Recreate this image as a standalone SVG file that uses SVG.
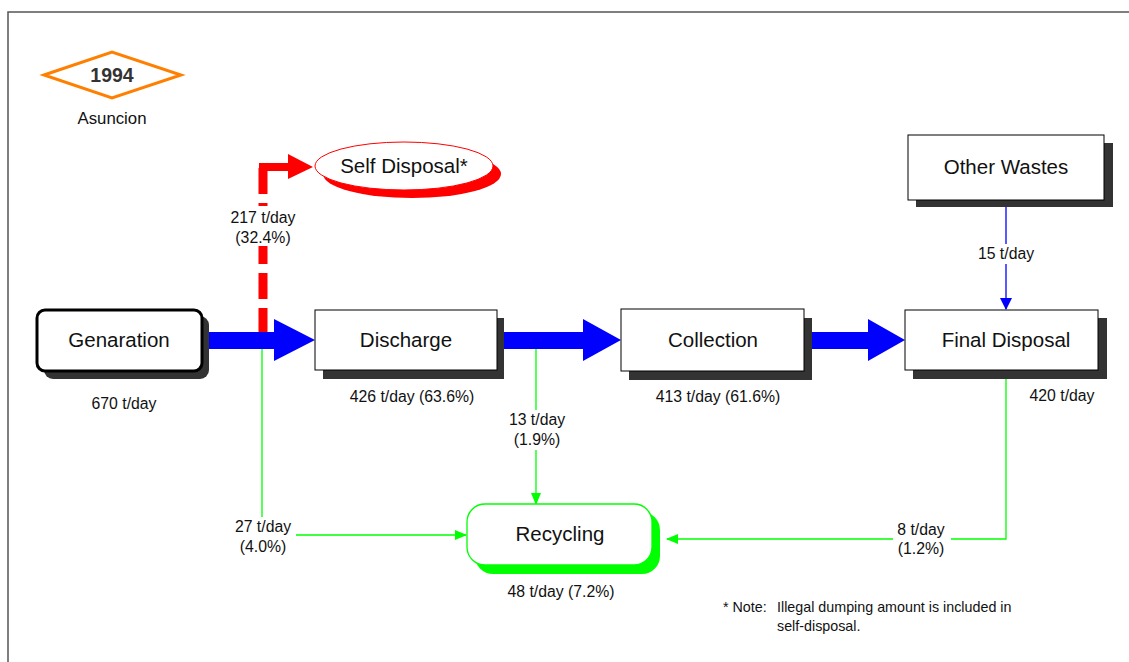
<svg xmlns="http://www.w3.org/2000/svg" width="1129" height="662" viewBox="0 0 1129 662">
  <style>
    text { font-family: "Liberation Sans", Arial, sans-serif; fill: #111; }
    .box { fill: #fff; stroke: #000; stroke-width: 1; }
    .shadow { fill: #333; }
    .name { font-size: 20.5px; text-anchor: middle; }
    .lbl { font-size: 15.8px; text-anchor: middle; }
    .note { font-size: 14.3px; }
    .thin-green { fill: none; stroke: #00ff00; stroke-width: 1.3; }
    .bg { fill: #fff; }
  </style>
  <defs>
    <marker id="ah-green" markerWidth="12" markerHeight="10" refX="11" refY="5" orient="auto" markerUnits="userSpaceOnUse">
      <path d="M0,0 L12,5 L0,10 Z" fill="#00ff00"/>
    </marker>
    <marker id="ah-blue" markerWidth="12" markerHeight="12" refX="11" refY="6" orient="auto" markerUnits="userSpaceOnUse">
      <path d="M0,0 L12,6 L0,12 Z" fill="#0000ff"/>
    </marker>
  </defs>

  <rect width="1129" height="662" fill="#fff"/>
  <!-- frame -->
  <path d="M8,662 V12 H1129" fill="none" stroke="#555" stroke-width="1.5"/>

  <!-- year badge -->
  <g id="year">
    <polygon points="44,75 112,52 181,75 112,98" fill="#fff" stroke="#ff8000" stroke-width="3"/>
    <text x="112" y="82" font-size="19.5" font-weight="bold" text-anchor="middle" style="fill:#333">1994</text>
    <text x="112" y="124" font-size="16.8" text-anchor="middle">Asuncion</text>
  </g>

  <!-- connectors -->
  <g id="connectors">
    <!-- thin green flows to recycling -->
    <path class="thin-green" d="M262,349 V535 H466" marker-end="url(#ah-green)"/>
    <path class="thin-green" d="M536,349 V504" marker-end="url(#ah-green)"/>
    <path class="thin-green" d="M1006,379 V539 H667" marker-end="url(#ah-green)"/>
    <!-- other wastes to final disposal -->
    <path d="M1006,207 V309" fill="none" stroke="#0000ff" stroke-width="1.3" marker-end="url(#ah-blue)"/>

    <!-- main blue flow arrows -->
    <polygon points="209,332 274,332 274,319 315,340 274,361 274,349 209,349" fill="#0000ff"/>
    <polygon points="504,332 583,332 583,319 621,340 583,361 583,349 504,349" fill="#0000ff"/>
    <polygon points="812,332 868,332 868,319 905,340 868,361 868,349 812,349" fill="#0000ff"/>

    <!-- dashed red flow to self disposal -->
    <path d="M263,168 V332" fill="none" stroke="#ff0000" stroke-width="9" stroke-dasharray="26 9"/>
    <polygon points="259,163 288,163 288,154 313,167 288,179 288,171 259,171" fill="#ff0000"/>

    <!-- flow labels -->
    <rect class="bg" x="220" y="206" width="86" height="40"/>
    <text x="263" y="223" class="lbl">217 t/day</text>
    <text x="263" y="243" class="lbl">(32.4%)</text>

    <rect class="bg" x="230" y="517" width="66" height="40"/>
    <text x="263" y="532" class="lbl">27 t/day</text>
    <text x="263" y="552" class="lbl">(4.0%)</text>

    <rect class="bg" x="498" y="410" width="76" height="40"/>
    <text x="537" y="425" class="lbl">13 t/day</text>
    <text x="537" y="445" class="lbl">(1.9%)</text>

    <rect class="bg" x="893" y="520" width="58" height="38"/>
    <text x="921" y="535" class="lbl">8 t/day</text>
    <text x="921" y="554" class="lbl">(1.2%)</text>

    <rect class="bg" x="973" y="244" width="66" height="20"/>
    <text x="1006" y="259" class="lbl">15 t/day</text>
  </g>

  <g id="self-disposal">
    <ellipse cx="412" cy="174" rx="89" ry="24" fill="#ff0000"/>
    <ellipse cx="404" cy="166" rx="89" ry="24" fill="#fff" stroke="#ff0000" stroke-width="1"/>
    <text x="404" y="173" class="name">Self Disposal*</text>
  </g>

  <g id="generation">
    <rect class="shadow" x="44" y="316" width="165" height="63" rx="9"/>
    <rect x="37" y="310" width="165" height="61" rx="8" fill="#fff" stroke="#000" stroke-width="3"/>
    <text x="119" y="347" class="name">Genaration</text>
    <text x="124" y="409" class="lbl">670 t/day</text>
  </g>

  <g id="discharge">
    <rect class="shadow" x="323" y="318" width="181" height="61"/>
    <rect class="box" x="315" y="310" width="182" height="60"/>
    <text x="406" y="347" class="name">Discharge</text>
    <text x="412" y="402" class="lbl">426 t/day (63.6%)</text>
  </g>

  <g id="collection">
    <rect class="shadow" x="629" y="318" width="183" height="62"/>
    <rect class="box" x="621" y="309" width="183" height="62"/>
    <text x="713" y="347" class="name">Collection</text>
    <text x="718" y="402" class="lbl">413 t/day (61.6%)</text>
  </g>

  <g id="final-disposal">
    <rect class="shadow" x="913" y="318" width="194" height="61"/>
    <rect class="box" x="905" y="310" width="193" height="60"/>
    <text x="1006" y="347" class="name">Final Disposal</text>
    <text x="1062" y="401" class="lbl">420 t/day</text>
  </g>

  <g id="other-wastes">
    <rect class="shadow" x="916" y="143" width="197" height="64"/>
    <rect class="box" x="908" y="135" width="196" height="65"/>
    <text x="1006" y="174" class="name">Other Wastes</text>
  </g>

  <g id="recycling">
    <rect x="475" y="512" width="185" height="62" rx="18" fill="#00ff00"/>
    <rect x="467" y="504" width="185" height="61" rx="18" fill="#fff" stroke="#00ff00" stroke-width="1.3"/>
    <text x="560" y="541" class="name">Recycling</text>
    <text x="561" y="597" class="lbl">48 t/day (7.2%)</text>
  </g>

  <g id="note">
    <text x="723" y="612" class="note">* Note:</text>
    <text x="777" y="612" class="note">Illegal dumping amount is included in</text>
    <text x="777" y="631" class="note">self-disposal.</text>
  </g>
</svg>
